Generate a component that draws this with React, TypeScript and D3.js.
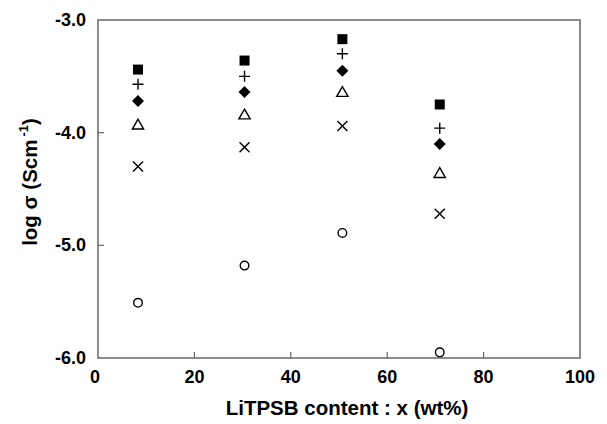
import React from 'react';
import * as d3 from 'd3';

// LiTPSB content (wt%) for each measured sample
const contents = [8.3, 30.4, 50.7, 70.9];

// log sigma values, one list per marker series
const squareVals = [-3.44, -3.36, -3.17, -3.75];
const plusVals = [-3.57, -3.5, -3.3, -3.96];
const diamondVals = [-3.72, -3.64, -3.45, -4.1];
const triangleVals = [-3.93, -3.84, -3.64, -4.36];
const crossVals = [-4.3, -4.13, -3.94, -4.72];
const circleVals = [-5.51, -5.18, -4.89, -5.95];

const xTicks = [0, 20, 40, 60, 80, 100];
const yTicks = [-3.0, -4.0, -5.0, -6.0];

const width = 607;
const height = 424;
const margin = { top: 20, right: 27, bottom: 66, left: 98 };

const font = '"Liberation Sans", Arial, sans-serif';

const App = () => {
    const x = d3.scaleLinear()
        .domain([0, 100])
        .range([margin.left, width - margin.right]);
    const y = d3.scaleLinear()
        .domain([-6, -3])
        .range([height - margin.bottom, margin.top]);

    const sq = d3.symbol(d3.symbolSquare, 100)();
    const tri = d3.symbol(d3.symbolTriangle, 55)();
    const dia = 'M0,-6L6,0L0,6L-6,0Z';
    const plus = 'M-5.5,0H5.5M0,-5.5V5.5';
    const cross = 'M-5,-5L5,5M-5,5L5,-5';

    const series = [
        { vals: squareVals, d: sq, fill: '#000', stroke: 'none' },
        { vals: plusVals, d: plus, fill: 'none', stroke: '#000' },
        { vals: diamondVals, d: dia, fill: '#000', stroke: 'none' },
        { vals: triangleVals, d: tri, fill: 'none', stroke: '#000', dy: 1 },
        { vals: crossVals, d: cross, fill: 'none', stroke: '#000' },
    ];

    const bottom = height - margin.bottom;

    return (
        <svg width={width} height={height}
            style={{ position: 'absolute', left: 0, top: 0, background: '#fff' }}>
            <rect x={margin.left} y={margin.top}
                width={width - margin.left - margin.right}
                height={bottom - margin.top}
                fill="none" stroke="#666" strokeWidth={1.5} />

            {xTicks.map(t => (
                <g key={'x' + t}>
                    {t > 0 && t < 100 &&
                        <line x1={x(t)} x2={x(t)} y1={bottom} y2={bottom - 6} stroke="#666" strokeWidth={1.2} />}
                    <text x={x(t) - (t === 0 ? 3 : 0)} y={bottom + 25} textAnchor="middle"
                        fontFamily={font} fontWeight="bold" fontSize={18}>{t}</text>
                </g>
            ))}

            {yTicks.map(t => (
                <g key={'y' + t}>
                    {t > -6 && t < -3 &&
                        <line x1={margin.left} x2={margin.left + 6} y1={y(t)} y2={y(t)} stroke="#666" strokeWidth={1.2} />}
                    <text x={86} y={y(t) + 6} textAnchor="end"
                        fontFamily={font} fontWeight="bold" fontSize={18}>{t.toFixed(1)}</text>
                </g>
            ))}

            {series.map((s, i) => s.vals.map((v, j) => (
                <path key={i + '-' + j} d={s.d}
                    transform={`translate(${x(contents[j])},${y(v) + (s.dy || 0)})`}
                    fill={s.fill} stroke={s.stroke} strokeWidth={1.4} />
            )))}

            {circleVals.map((v, j) => (
                <circle key={'c' + j} cx={x(contents[j])} cy={y(v)} r={4.3}
                    fill="none" stroke="#000" strokeWidth={1.4} />
            ))}

            <text x={347} y={415} textAnchor="middle"
                fontFamily={font} fontWeight="bold" fontSize={20.5}>LiTPSB content : x (wt%)</text>

            <text transform="translate(37,182) rotate(-90)" textAnchor="middle"
                fontFamily={font} fontWeight="bold" fontSize={20.5}>
                log σ (Scm<tspan fontSize={13} dx={3} dy={-9}>-1</tspan><tspan dy={9}>)</tspan>
            </text>
        </svg>
    );
};

export default App;
